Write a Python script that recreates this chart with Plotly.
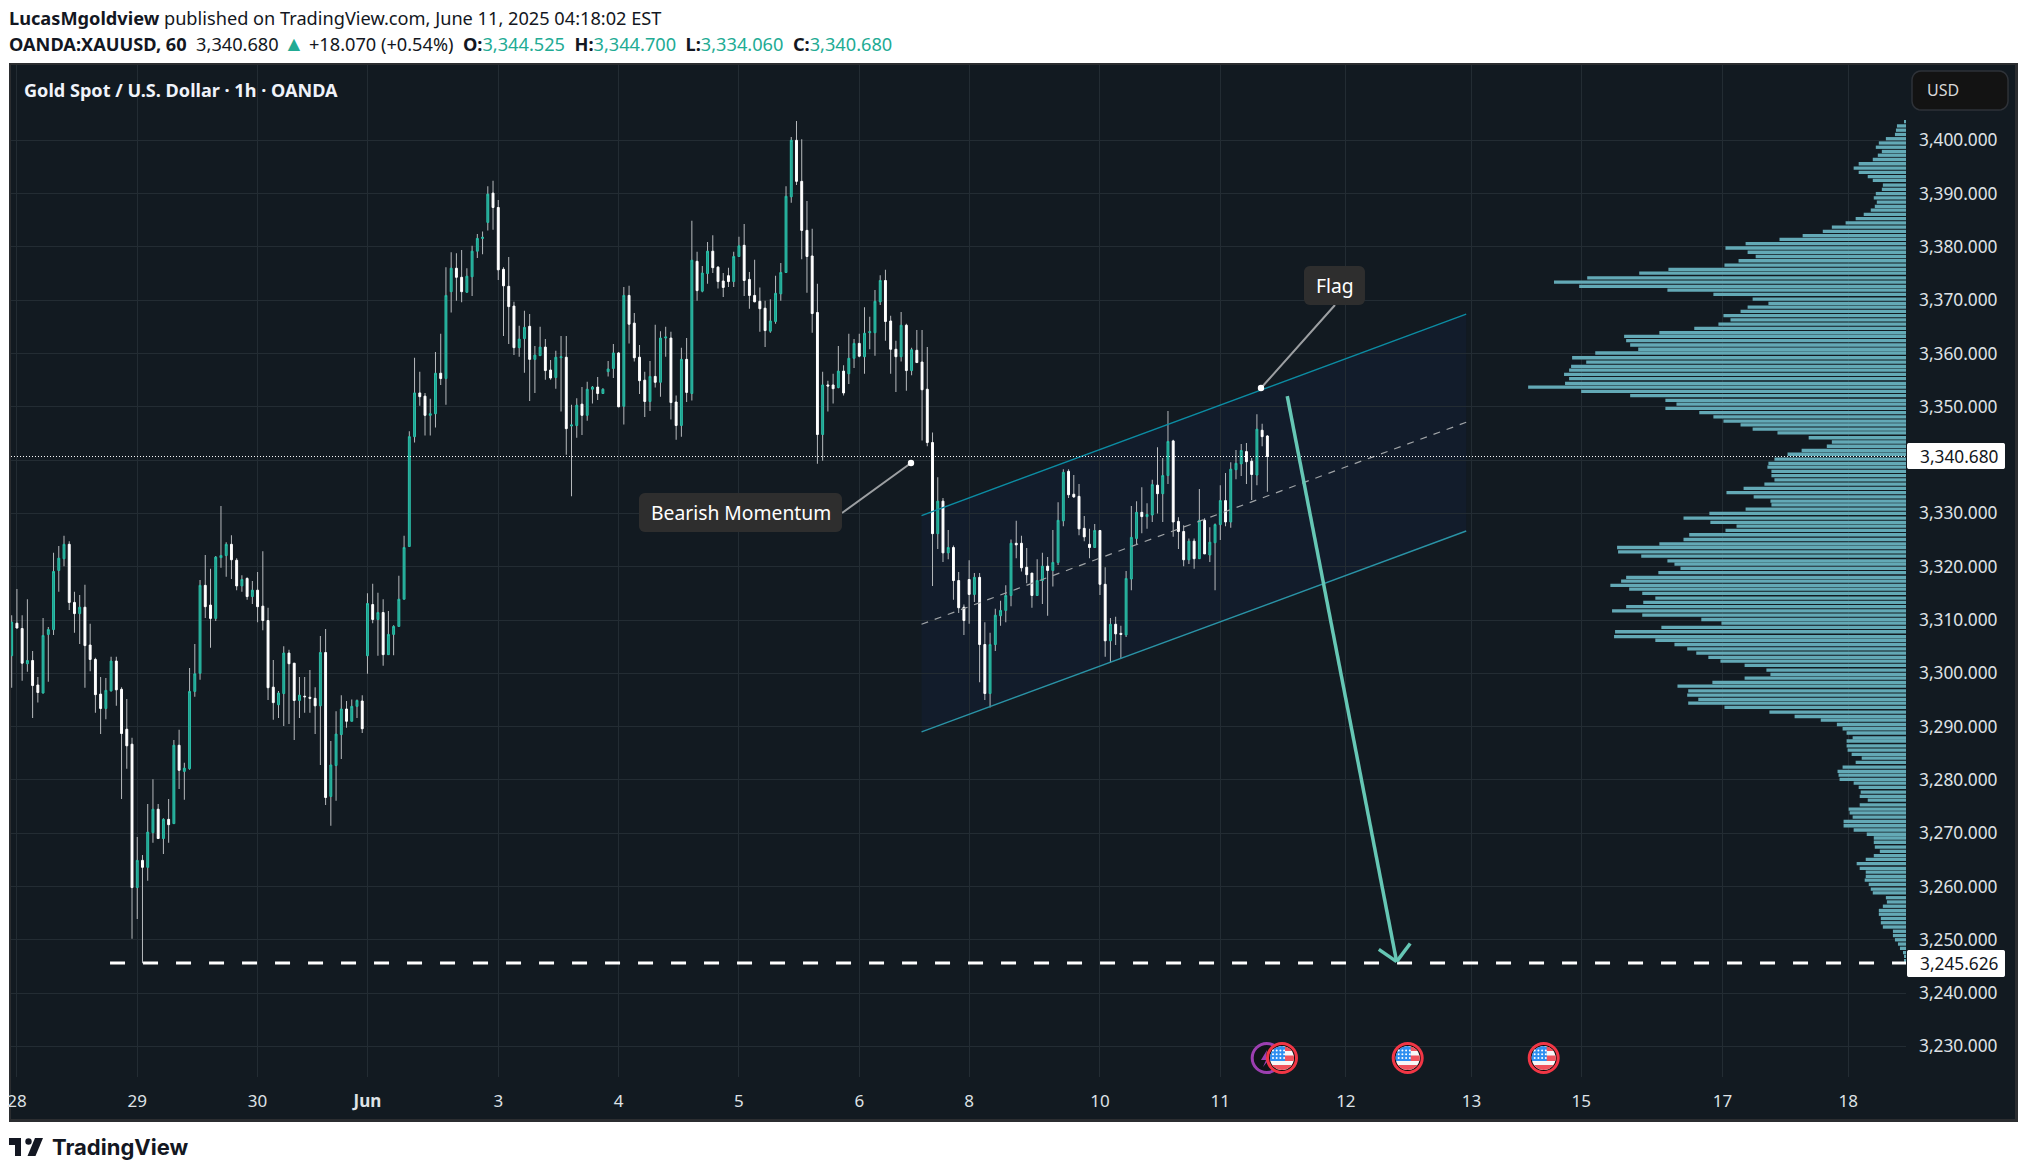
import math
import numpy as np
import plotly.graph_objects as go

# OHLC, XAUUSD 1h (posicion de barra = indice)
opens = [3303.3,3309.4,3308.4,3301.8,3302.4,3297.8,3296.3,3307.3,3308.2,3319.3,
3321.5,3324.2,3313.3,3311.2,3312.4,3305.3,3302.6,3296.1,3293.4,3296.7,
3302.3,3297.0,3289.5,3286.7,3259.8,3264.9,3263.6,3270.1,3274.5,3269.0,
3272.6,3271.8,3286.5,3281.6,3282.1,3296.6,3300.0,3316.5,3312.8,3310.3,
3321.7,3322.1,3324.2,3321.2,3316.4,3317.8,3314.4,3315.6,3312.6,3309.9,
3297.4,3294.1,3296.2,3303.8,3301.9,3294.9,3295.7,3295.5,3295.3,3293.9,
3303.9,3276.9,3282.7,3288.5,3293.3,3291.0,3293.8,3294.8,3303.3,3312.9,
3310.1,3311.4,3303.5,3307.3,3308.8,3313.9,3323.8,3344.4,3352.6,3352.0,
3348.4,3348.7,3356.3,3355.3,3371.6,3376.0,3374.3,3371.5,3374.4,3379.2,
3381.6,3384.6,3390.1,3387.4,3375.8,3372.6,3368.9,3361.1,3362.8,3365.1,
3358.9,3359.6,3361.2,3356.9,3355.5,3359.2,3359.3,3346.4,3346.5,3350.5,
3348.4,3353.3,3353.7,3352.5,3356.6,3357.2,3360.1,3350.1,3370.9,3365.7,
3359.3,3355.0,3351.0,3355.7,3354.6,3362.9,3362.9,3350.9,3346.5,3358.9,
3352.5,3377.3,3371.7,3375.0,3379.2,3376.2,3373.6,3374.6,3373.5,3378.2,
3380.3,3373.9,3370.9,3369.8,3368.5,3364.2,3366.0,3371.2,3375.2,3389.4,
3400.0,3392.3,3383.1,3378.3,3367.7,3344.8,3354.1,3354.1,3353.6,3356.7,
3356.2,3359.1,3361.9,3359.4,3363.9,3363.9,3369.7,3373.7,3366.1,3360.8,
3359.4,3365.3,3356.8,3360.6,3358.4,3353.3,3343.3,3326.2,3332.3,3322.6,
3323.6,3317.4,3312.4,3317.6,3314.8,3318.0,3305.4,3296.2,3305.4,3310.8,
3311.8,3314.6,3324.4,3324.4,3319.9,3318.8,3314.6,3317.4,3320.1,3319.3,
3320.8,3328.6,3337.9,3333.6,3333.2,3327.2,3324.2,3323.6,3326.8,3316.7,
3306.1,3309.2,3307.5,3307.2,3317.7,3325.3,3330.2,3329.4,3329.7,3335.3,
3333.7,3337.1,3343.6,3328.5,3326.6,3321.3,3324.8,3321.5,3328.7,3322.2,
3324.5,3327.9,3332.4,3328.4,3338.2,3339.3,3341.6,3339.8,3337.2,3345.6,3344.525]

highs = [3310.9,3315.8,3310.9,3313.9,3304.2,3299.3,3310.4,3308.7,3322.6,3323.9,
3325.8,3324.8,3315.3,3314.7,3316.6,3309.3,3302.9,3299.3,3299.1,3303.1,
3303.1,3297.4,3295.2,3287.9,3269.3,3265.9,3275.5,3280.1,3275.5,3272.8,
3276.4,3287.5,3289.4,3283.2,3301.0,3305.5,3317.5,3322.2,3319.6,3322.0,
3331.4,3324.6,3325.9,3321.6,3318.4,3318.0,3317.3,3319.0,3322.9,3312.3,
3302.5,3296.7,3305.1,3304.4,3301.9,3299.3,3299.3,3300.6,3297.4,3307.0,
3308.3,3287.3,3292.9,3295.9,3294.8,3295.1,3295.1,3295.9,3315.0,3316.8,
3315.1,3313.9,3311.7,3309.0,3318.3,3325.8,3345.4,3359.2,3356.6,3352.6,
3351.5,3360.3,3363.7,3376.2,3379.0,3378.8,3379.4,3376.0,3380.2,3382.4,
3382.9,3391.4,3392.4,3388.8,3376.2,3378.1,3369.7,3365.2,3368.0,3367.4,
3361.4,3365.0,3362.7,3358.8,3360.5,3363.3,3363.3,3350.4,3351.6,3353.7,
3354.7,3353.9,3355.6,3353.5,3358.6,3361.8,3360.3,3372.5,3372.7,3367.6,
3361.6,3356.6,3358.6,3365.4,3364.2,3365.0,3364.1,3352.1,3361.1,3362.9,
3384.9,3379.1,3376.4,3380.9,3382.2,3376.4,3375.1,3376.1,3379.1,3381.9,
3384.3,3375.3,3377.6,3372.4,3369.9,3370.2,3374.6,3377.0,3391.4,3400.6,
3403.6,3400.2,3388.6,3383.4,3373.1,3356.6,3354.9,3356.2,3361.4,3357.8,
3363.7,3362.7,3363.7,3368.7,3366.9,3371.9,3374.7,3375.7,3367.1,3362.4,
3367.8,3365.6,3361.1,3364.4,3364.4,3361.2,3345.2,3336.8,3332.9,3326.9,
3324.0,3319.0,3312.9,3321.2,3318.8,3318.8,3309.6,3307.6,3312.1,3313.6,
3316.5,3325.1,3328.6,3325.8,3323.5,3318.8,3321.4,3322.6,3321.8,3326.9,
3332.1,3338.3,3338.3,3337.2,3335.5,3329.5,3327.1,3328.0,3326.8,3319.9,
3310.4,3310.6,3308.9,3319.2,3331.4,3332.3,3334.9,3331.9,3336.3,3342.4,
3340.4,3349.2,3343.8,3329.3,3327.8,3325.3,3325.3,3334.6,3329.1,3327.4,
3328.1,3335.3,3337.6,3339.6,3341.9,3343.0,3343.2,3340.4,3348.6,3346.8,3344.7]

lows = [3297.3,3308.4,3298.6,3300.3,3291.6,3294.5,3296.2,3298.4,3307.2,3315.3,
3320.1,3311.9,3307.6,3305.5,3297.3,3300.4,3292.6,3288.6,3291.4,3296.6,
3293.9,3276.4,3282.1,3250.2,3253.9,3245.6,3261.1,3268.2,3269.0,3266.1,
3268.2,3271.8,3278.3,3276.3,3281.9,3295.6,3298.8,3310.4,3304.8,3309.8,
3319.8,3318.1,3317.7,3315.6,3315.3,3313.8,3313.0,3309.6,3308.1,3295.0,
3291.3,3291.6,3290.1,3290.5,3287.5,3291.6,3292.6,3292.6,3288.6,3282.8,
3275.3,3271.4,3276.1,3283.9,3289.8,3291.0,3291.6,3288.8,3299.9,3309.4,
3303.3,3301.4,3303.5,3303.4,3308.8,3313.9,3323.8,3343.3,3350.2,3344.6,
3344.6,3346.1,3354.1,3350.4,3367.7,3369.9,3369.6,3371.4,3370.8,3377.9,
3378.6,3383.1,3383.2,3373.8,3363.3,3361.8,3359.7,3359.4,3356.4,3351.1,
3352.6,3359.6,3355.1,3355.1,3353.4,3349.1,3341.0,3333.2,3344.2,3344.7,
3347.4,3350.6,3351.3,3352.4,3355.7,3355.4,3349.9,3346.7,3361.9,3358.5,
3352.4,3348.1,3349.2,3353.6,3351.9,3359.4,3347.6,3343.8,3344.4,3350.9,
3351.2,3369.9,3371.5,3373.1,3375.1,3372.2,3370.6,3372.5,3372.5,3378.1,
3370.8,3368.4,3369.6,3364.1,3361.2,3363.9,3365.6,3369.9,3375.1,3388.3,
3391.6,3377.7,3371.4,3363.9,3339.3,3339.9,3349.1,3350.6,3353.5,3352.1,
3354.3,3357.3,3359.3,3356.2,3360.8,3359.6,3369.1,3362.4,3356.2,3352.8,
3358.5,3353.0,3355.9,3358.2,3343.7,3342.6,3316.4,3323.3,3320.9,3321.4,
3313.8,3311.3,3307.2,3309.3,3313.4,3298.3,3295.0,3293.6,3304.2,3308.9,
3309.6,3312.6,3321.6,3319.1,3316.9,3312.3,3314.5,3313.0,3310.8,3316.3,
3320.3,3327.6,3332.9,3332.9,3325.9,3324.8,3321.6,3323.6,3314.7,3303.1,
3302.0,3305.3,3302.8,3306.8,3315.6,3324.1,3326.3,3327.1,3328.4,3330.0,
3328.4,3335.5,3325.6,3323.3,3320.1,3320.5,3319.6,3321.5,3322.4,3320.9,
3315.6,3325.0,3327.6,3327.3,3336.4,3337.0,3335.5,3332.5,3335.3,3342.6,3334.06]

closes = [3309.6,3308.5,3301.9,3302.4,3297.7,3296.4,3307.1,3308.2,3319.1,3321.6,
3324.2,3313.3,3311.2,3312.4,3305.2,3302.6,3296.0,3293.4,3296.8,3302.3,
3296.9,3288.7,3286.4,3259.8,3264.9,3263.6,3270.2,3274.5,3269.0,3272.6,
3271.6,3286.5,3281.8,3282.2,3296.6,3299.9,3316.5,3312.5,3310.3,3321.8,
3322.1,3324.2,3321.3,3316.4,3317.6,3314.4,3315.6,3312.5,3309.9,3297.3,
3294.5,3296.3,3303.8,3301.8,3294.9,3295.9,3295.6,3295.3,3293.9,3303.9,
3276.7,3282.8,3288.6,3293.3,3291.0,3293.8,3294.9,3289.6,3313.1,3310.1,
3311.4,3303.5,3307.3,3308.8,3313.9,3323.6,3344.4,3352.6,3351.9,3348.4,
3348.7,3356.3,3355.3,3370.9,3376.0,3374.3,3371.6,3374.5,3379.2,3381.6,
3381.8,3389.9,3387.4,3375.7,3372.7,3368.8,3361.1,3362.7,3364.9,3358.9,
3359.7,3361.2,3356.8,3355.4,3359.3,3359.4,3345.9,3346.6,3350.3,3348.4,
3353.3,3353.7,3352.5,3353.3,3357.1,3360.1,3350.0,3370.9,3365.5,3359.2,
3354.9,3351.0,3355.7,3354.6,3362.9,3363.1,3350.8,3346.5,3358.9,3352.7,
3377.5,3371.8,3375.1,3379.2,3376.1,3373.5,3372.4,3373.5,3378.2,3380.2,
3373.7,3370.9,3369.7,3368.4,3364.3,3366.1,3371.3,3375.2,3389.5,3400.0,
3392.3,3383.1,3378.2,3367.5,3344.8,3354.1,3353.9,3353.4,3356.7,3352.6,
3359.1,3361.9,3359.5,3363.8,3364.1,3369.8,3373.7,3366.0,3360.8,3359.4,
3365.3,3356.8,3360.7,3358.3,3353.2,3343.3,3326.2,3332.3,3322.6,3323.6,
3317.4,3312.3,3309.9,3314.8,3318.0,3305.4,3296.2,3305.4,3310.9,3311.8,
3314.6,3324.4,3324.1,3319.8,3318.5,3314.6,3317.4,3320.1,3319.3,3320.8,
3328.7,3337.7,3333.5,3333.1,3327.1,3325.6,3323.6,3326.8,3316.7,3306.1,
3309.2,3307.4,3307.3,3317.8,3325.5,3330.2,3329.4,3329.8,3335.4,3333.7,
3337.1,3343.5,3328.4,3326.6,3321.3,3324.8,3321.5,3328.7,3322.4,3324.6,
3327.9,3332.4,3328.4,3338.3,3339.4,3341.8,3339.7,3337.3,3345.8,3344.4,3340.68]

# Perfil de volumen: nivel de precio y volumen (unidades arbitrarias)
vp_levels = [3403.5,3402.7,3401.9,3401.1,3400.3,3399.5,3398.7,3397.9,3397.2,3396.4,3395.6,3394.8,3394.0,3393.2,3392.5,3391.6,3390.8,3390.0,3389.2,3388.4,
3387.6,3386.9,3386.1,3385.3,3384.5,3383.7,3382.9,3382.1,3381.4,3380.6,3379.8,3379.0,3378.2,3377.4,3376.6,3375.8,3375.1,3374.2,3373.4,3372.6,
3371.9,3371.1,3370.2,3369.4,3368.7,3367.9,3367.1,3366.3,3365.5,3364.7,3363.9,3363.2,3362.4,3361.6,3360.8,3360.1,3359.2,3358.4,3357.6,3356.9,
3356.1,3355.3,3354.4,3353.7,3352.9,3352.1,3351.2,3350.5,3349.7,3348.9,3348.1,3347.3,3346.6,3345.8,3345.1,3344.2,3343.4,3342.6,3341.8,3341.1,
3340.2,3339.4,3338.7,3337.9,3337.1,3336.3,3335.5,3334.7,3333.9,3333.1,3332.3,3331.6,3330.8,3330.0,3329.1,
3328.3,3327.6,3326.8,3326.0,3325.1,3324.3,3323.6,3322.8,3322.0,3321.1,3320.5,3319.7,3318.9,3318.0,3317.3,3316.5,3315.8,3315.0,3314.1,3313.3,
3312.5,3311.7,3310.9,3310.1,3309.4,3308.6,3307.8,3306.9,3306.2,3305.4,3304.6,3303.8,3303.0,3302.3,3301.5,3300.6,3299.8,3299.1,3298.3,3297.6,
3296.7,3295.9,3295.1,3294.4,3293.6,3292.7,3291.9,3291.2,3290.4,3289.6,3288.8,3287.9,3287.3,3286.4,3285.6,3284.8,3284.1,3283.3,3282.4,3281.6,
3280.9,3280.1,3279.4,3278.6,3277.7,3276.9,3276.2,3275.3,3274.5,3273.8,3273.0,3272.2,3271.4,3270.6,3269.8,3269.1,3268.3,3267.4,3266.6,3265.8,
3265.1,3264.3,3263.4,3262.7,3261.9,3261.2,3260.4,3259.5,3258.8,3257.9,3257.1,3256.3,3255.5,3254.8,3254.0,3253.2,3252.4,3251.6,3250.8,3250.0,
3249.2,3248.4,3247.6,3246.9,3246.1]

vp_volume = [6,27,30,33,60,81,90,72,84,99,141,156,141,114,99,69,72,90,96,87,
93,105,126,150,180,221,248,308,377,478,538,472,448,499,541,708,795,950,1049,974,
711,574,457,410,472,493,544,523,559,631,735,840,834,822,798,926,995,953,998,1004,
1019,1004,1016,1126,968,822,717,684,717,616,574,544,493,457,383,290,221,236,311,353,
392,410,413,401,401,392,422,484,535,454,404,401,478,586,663,
583,505,538,646,663,735,861,858,789,711,690,672,738,834,849,881,825,786,747,783,
834,876,786,610,550,729,867,870,747,690,652,625,589,553,481,416,404,481,577,681,
649,652,619,649,541,407,332,254,206,189,177,159,177,177,174,162,132,150,189,204,
201,198,156,141,135,138,114,138,171,168,159,186,186,156,117,96,96,93,78,96,
120,147,138,120,120,123,111,105,99,60,57,69,81,81,75,75,69,39,39,33,
24,18,9,6,5]

# Ejes
price_ticks = [3230,3240,3250,3260,3270,3280,3290,3300,3310,3320,3330,3340,3350,3360,3370,3380,3390,3400]
time_ticks = [1,24,47,68,93,116,139,162,183,208,231,255,279,300,327,351]
time_labels = ['28','29','30','<b>Jun</b>','3','4','5','6','8','10','11','12','13','15','17','18']

# Dibujos sobre el grafico (indice de barra, precio)
last_price = 3340.68
target_price = 3245.626
chan_x = [173.9, 278.0]
chan_upper = [3329.6, 3367.4]
chan_mid = [3309.2, 3347.1]
chan_lower = [3289.0, 3326.7]
arrow_x = [243.8, 264.7]
arrow_y = [3352.0, 3245.9]
barb_x = [261.3, 267.3]
barb_y = [3248.2, 3249.3]
target_start = 18.8

BG = '#121a21'
GRID = '#232c33'
UP_FILL = '#1f9e8e'
UP_LINE = '#2bbfa8'
FONT = 'Noto Sans'

# area del panel en pixeles de la pagina
L, R, T, B = 11, 1906, 65, 1077


def px(x):
    return (x - L) / (R - L)


def py(y):
    return 1 - (y - T) / (B - T)


def poly(points):
    return 'M' + ' L'.join(f'{px(a):.5f},{py(b):.5f}' for a, b in points) + ' Z'


def round_rect(x0, y0, x1, y1, r):
    pts = []
    for cx, cy, a0 in [(x1 - r, y0 + r, -90), (x1 - r, y1 - r, 0), (x0 + r, y1 - r, 90), (x0 + r, y0 + r, 180)]:
        for k in range(7):
            a = math.radians(a0 + 15 * k)
            pts.append((cx + r * math.cos(a), cy + r * math.sin(a)))
    return poly(pts)


def disc_band(cx, cy, r, x0, x1, y0, y1):
    # trozo rectangular recortado por un circulo (para la bandera)
    left, right = [], []
    for k in range(13):
        y = y0 + (y1 - y0) * k / 12
        half = math.sqrt(max(r * r - y * y, 0))
        left.append((cx + max(x0, -half), cy + y))
        right.append((cx + min(x1, half), cy + y))
    return poly(left + right[::-1])


def page_shape(path, fill, line=None, width=0, layer='above'):
    return dict(type='path', path=path, xref='paper', yref='paper', fillcolor=fill, layer=layer,
                line=dict(color=line or fill, width=width))


def page_circle(cx, cy, r, fill, line=None, width=0):
    return dict(type='circle', xref='paper', yref='paper', x0=px(cx - r), x1=px(cx + r), y0=py(cy + r), y1=py(cy - r),
                fillcolor=fill, line=dict(color=line or fill, width=width), layer='above')


def flag_icon(cx, cy):
    out = [page_circle(cx, cy, 14.5, '#0d0d0d', '#f23645', 3), page_circle(cx, cy, 12, '#f7f7f7')]
    for y0, y1 in [(-11, -7), (-2.5, 3), (7, 12)]:
        out.append(page_shape(disc_band(cx, cy, 12, -12, 12, y0, y1), '#f0525c'))
    out.append(page_shape(disc_band(cx, cy, 12, -12, 3, -12, 3), '#2f8ff0'))
    for i in range(4):
        for j in range(3):
            out.append(page_circle(cx - 9 + i * 3.7, cy - 7.5 + j * 3.8, 1, '#ffffff'))
    return out


shapes = [
    # marco y fondo de toda la captura
    dict(type='rect', xref='paper', yref='paper', x0=px(9), x1=px(2018), y0=py(1122), y1=py(63),
         fillcolor='#2b2d30', line=dict(width=0), layer='below'),
    dict(type='rect', xref='paper', yref='paper', x0=px(11), x1=px(2015), y0=py(1119), y1=py(65),
         fillcolor=BG, line=dict(width=0), layer='below'),
    # canal
    dict(type='path', xref='x', yref='y', layer='below', line=dict(width=0), fillcolor='rgba(30,60,170,0.08)',
         path=f'M{chan_x[0]},{chan_upper[0]} L{chan_x[1]},{chan_upper[1]} L{chan_x[1]},{chan_lower[1]} L{chan_x[0]},{chan_lower[0]} Z'),
    dict(type='line', xref='x', yref='y', x0=chan_x[0], x1=chan_x[1], y0=chan_upper[0], y1=chan_upper[1], line=dict(color='#0c8ca3', width=1.4)),
    dict(type='line', xref='x', yref='y', x0=chan_x[0], x1=chan_x[1], y0=chan_lower[0], y1=chan_lower[1], line=dict(color='#2a93a6', width=1.4)),
    dict(type='line', xref='x', yref='y', x0=chan_x[0], x1=chan_x[1], y0=chan_mid[0], y1=chan_mid[1], line=dict(color='#9fa3a6', width=1.2, dash='7px,7px')),
    # ultimo precio y objetivo
    dict(type='line', xref='paper', yref='y', x0=0, x1=1, y0=last_price, y1=last_price, line=dict(color='#ffffff', width=1, dash='1px,2px')),
    dict(type='line', xref='x', yref='y', x0=target_start, x1=362.06, y0=target_price, y1=target_price, line=dict(color='#ffffff', width=3, dash='15px,18px')),
    # flecha
    dict(type='line', xref='x', yref='y', x0=arrow_x[0], x1=arrow_x[1], y0=arrow_y[0], y1=arrow_y[1], line=dict(color='#66c7b5', width=3.5)),
    dict(type='line', xref='x', yref='y', x0=barb_x[0], x1=arrow_x[1], y0=barb_y[0], y1=arrow_y[1], line=dict(color='#66c7b5', width=3.5)),
    dict(type='line', xref='x', yref='y', x0=barb_x[1], x1=arrow_x[1], y0=barb_y[1], y1=arrow_y[1], line=dict(color='#66c7b5', width=3.5)),
    # etiquetas con linea
    page_shape(poly([(842, 513), (911, 463)]), 'rgba(0,0,0,0)', '#9c9fa2', 2),
    page_shape(poly([(1335, 305), (1261, 388)]), 'rgba(0,0,0,0)', '#9c9fa2', 2),
    page_circle(911, 463, 3.2, '#ffffff'),
    page_circle(1261, 388, 3.2, '#ffffff'),
    page_shape(round_rect(639, 493, 842, 532, 6), '#2e2e2e'),
    page_shape(round_rect(1304, 266, 1365, 305, 6), '#2e2e2e'),
    # cajas de precio y USD
    page_shape(round_rect(1907, 443, 2005, 469, 2), '#ffffff'),
    page_shape(round_rect(1907, 950, 2005, 977, 2), '#ffffff'),
    page_shape(round_rect(1912, 71, 2008, 110, 9), '#131313', '#2e3238', 1.5),
    # evento (rayo) morado
    page_circle(1266.7, 1058, 14.5, '#0f1418', '#9c3fb0', 3),
    page_shape(poly([(1267, 1050), (1261, 1060), (1266, 1060), (1263, 1067), (1271, 1057), (1266, 1057)]), '#9c3fb0'),
    # logo
    page_shape(poly([(9, 1138), (21, 1138), (21, 1156), (15, 1156), (15, 1145), (9, 1145)]), '#131722'),
    page_circle(28.5, 1141.5, 3.2, '#131722'),
    page_shape(poly([(35, 1138), (43, 1138), (35.5, 1156), (27.5, 1156)]), '#131722'),
]
for cx in [1282, 1407.7, 1543.7]:
    shapes += flag_icon(cx, 1058)

teal_txt = '#22ab94'


def page_text(x, y, text, size, color='#131722', family=FONT, anchor='left'):
    return dict(xref='paper', yref='paper', x=px(x), y=py(y), text=text, showarrow=False, xanchor=anchor, yanchor='middle',
                xshift=0, font=dict(family=family, size=size, color=color), align='left')


def teal(s):
    return f'<span style="color:{teal_txt}">{s}</span>'


annotations = [
    page_text(7, 18, '<b>LucasMgoldview</b> published on TradingView.com, June 11, 2025 04:18:02 EST', 18.2),
    page_text(7, 43, '<b>OANDA:XAUUSD, 60</b>  3,340.680 ' + '<span style="color:' + teal_txt + ';font-size:21px">▲</span>' + ' +18.070 (+0.54%)  <b>O:</b>' + teal('3,344.525')
              + '  <b>H:</b>' + teal('3,344.700') + '  <b>L:</b>' + teal('3,334.060') + '  <b>C:</b>' + teal('3,340.680'), 18.2),
    page_text(21.5, 90, '<b>Gold Spot / U.S. Dollar · 1h · OANDA</b>', 18.1, '#f0f3fa'),
    page_text(1925, 90, 'USD', 16, '#d8d8d8'),
    page_text(1918, 456, '3,340.680', 17.3, '#131722'),
    page_text(1918, 963.5, '3,245.626', 17.3, '#131722'),
    page_text(740.5, 512.5, 'Bearish Momentum', 19.3, '#ffffff', anchor='center'),
    page_text(1334.5, 285.5, 'Flag', 19.3, '#ffffff', anchor='center'),
    page_text(50, 1147, '<b>TradingView</b>', 22, '#131722', family='Inter'),
]

bar_x = list(range(len(opens)))
o, h, l, c = map(np.array, (opens, highs, lows, closes))

fig = go.Figure()

# mechas grises debajo de los cuerpos
fig.add_trace(go.Bar(x=bar_x, base=l, y=h - l, width=0.19, marker=dict(color='rgba(185,188,191,0.99)', line=dict(width=0)), hoverinfo='skip'))

# cuerpos de las velas
fig.add_trace(go.Candlestick(
    x=bar_x, open=o, close=c, high=np.maximum(o, c), low=np.minimum(o, c), whiskerwidth=0,
    increasing=dict(fillcolor=UP_FILL, line=dict(color=UP_LINE, width=1)),
    decreasing=dict(fillcolor='#ffffff', line=dict(color='#ffffff', width=1)),
))

# perfil de volumen pegado a la escala de precios
fig.add_trace(go.Bar(x=vp_volume, y=vp_levels, orientation='h', xaxis='x2', width=0.62,
                     marker=dict(color='#63a9b6', line=dict(width=0)), hoverinfo='skip'))

fig.update_layout(
    width=2025, height=1175, showlegend=False, barmode='overlay', boxgap=0.48,
    margin=dict(l=L, r=2025 - R, t=T, b=1175 - B, pad=0, autoexpand=False),
    paper_bgcolor='#ffffff', plot_bgcolor=BG, font=dict(family=FONT, color='#dfe2e6'),
    xaxis=dict(range=[-0.13, 362.06], tickmode='array', tickvals=time_ticks, ticktext=time_labels, showgrid=True, gridcolor=GRID,
               gridwidth=1, zeroline=False, showline=False, ticks='', tickfont=dict(size=17, color='#dfe2e6'),
               ticklabelstandoff=12, rangeslider=dict(visible=False), tickangle=0),
    xaxis2=dict(overlaying='x', anchor='y', side='top', range=[5647, 0], visible=False),
    yaxis=dict(range=[3224.26, 3414.13], side='right', tickmode='array', tickvals=price_ticks, tickformat=',.3f', showgrid=True,
               gridcolor=GRID, gridwidth=1, zeroline=False, showline=False, ticks='', tickfont=dict(size=17.3, color='#dfe2e6'),
               ticklabelstandoff=12),
    shapes=shapes, annotations=annotations,
)

# sin margen del body para que la figura ocupe la ventana exacta
fig.write_html("out.html", config={'displayModeBar': False},
               post_script="document.body.style.margin='0';document.body.style.overflow='hidden';")
